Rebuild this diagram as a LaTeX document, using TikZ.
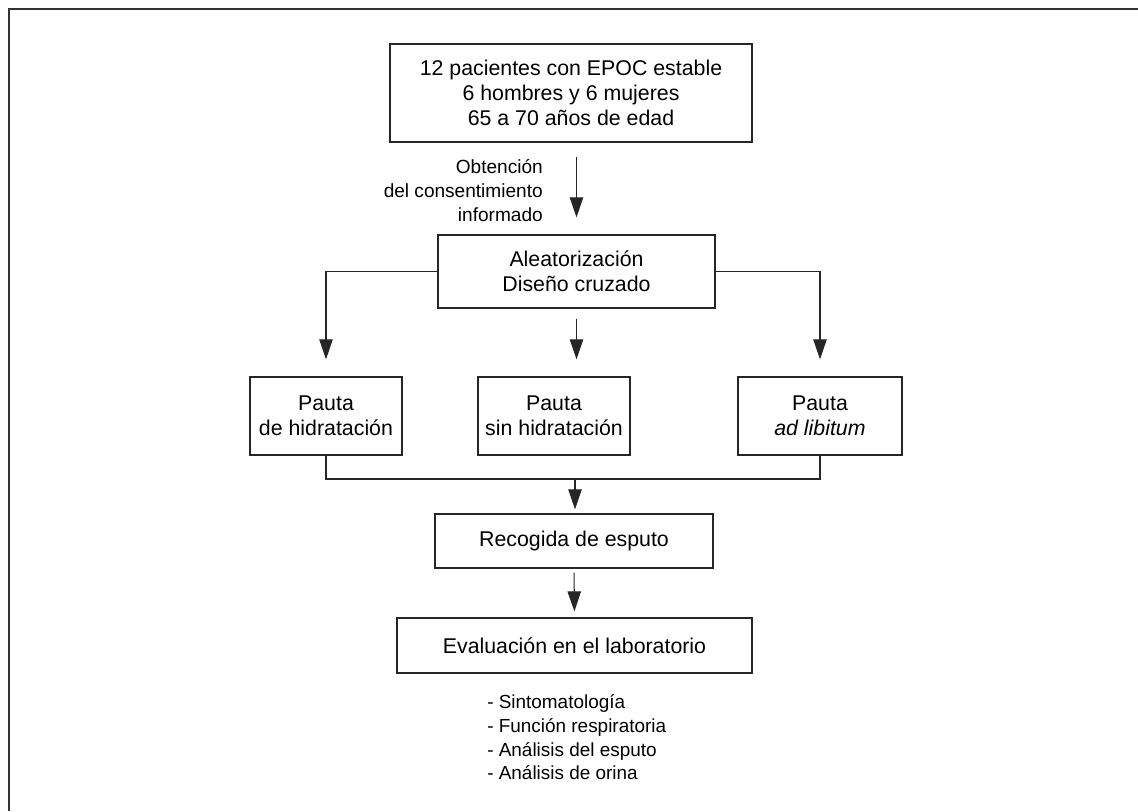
\documentclass[tikz,border=0pt]{standalone}
\usepackage{fontspec}
\setmainfont{Liberation Sans}
\usetikzlibrary{arrows.meta,calc}
\begin{document}
\begin{tikzpicture}[x=0.75pt,y=-0.75pt,
  box/.style={draw=black!85,line width=0.9pt,inner sep=0pt,align=center,
    font=\fontsize{16}{18.75}\selectfont},
  conn/.style={draw=black!85,line width=0.8pt},
  arr/.style={conn,-{Triangle[length=15pt,width=10pt]}},
  small/.style={font=\fontsize{14.3}{18}\selectfont,inner sep=0pt},
  list/.style={font=\fontsize{14.2}{17.8}\selectfont,inner sep=0pt}]
\useasboundingbox (0,0) rectangle (1138,811);
\draw[black!80,line width=1.5pt] (8.5,811) -- (8.5,8.5) -- (1138,8.5);
\node[box,minimum width=271.5pt,minimum height=73.5pt] (top) at (571,93)
  {12 pacientes con EPOC estable\\6 hombres y 6 mujeres\\65 a 70 años de edad};
\node[box,minimum width=207.75pt,minimum height=54.75pt] (alea) at (576.5,271.5)
  {Aleatorización\\Diseño cruzado};
\node[box,minimum width=114pt,minimum height=58.5pt] (p1) at (326,416)
  {Pauta\\de hidratación};
\node[box,minimum width=114pt,minimum height=58.5pt] (p2) at (554,416)
  {Pauta\\sin hidratación};
\node[box,minimum width=123pt,minimum height=58.5pt] (p3) at (820,416)
  {Pauta\\\textit{ad libitum}};
\node[box,minimum width=208.5pt,minimum height=40.5pt] (reco) at (574,541)
  {Recogida de esputo};
\node[box,minimum width=266.25pt,minimum height=41.25pt] (eval) at (574.5,645.5)
  {Evaluación en el laboratorio};
\node[small,align=right,anchor=east] (lab) at (543,191)
  {Obtención\\del consentimiento\\informado};
\node[list,align=left,anchor=west] (lst) at (487,737.5)
  {- Sintomatología\\- Función respiratoria\\- Análisis del esputo\\- Análisis de orina};
\coordinate (j) at (575,479);
\draw[arr,shorten <=11pt,shorten >=12.75pt] (top.south -| alea) -- (alea.north);
\draw[arr,shorten <=7.5pt,shorten >=12.75pt] (alea.south) -- (alea.south |- p2.north);
\draw[arr,shorten >=12.75pt] (alea.west) -| (p1.north);
\draw[arr,shorten >=12.75pt] (alea.east) -| (p3.north);
\draw[conn] (p1.south) |- (j) -| (p3.south);
\draw[arr,shorten >=3pt] (j) -- (j |- reco.north);
\draw[arr,shorten <=3pt,shorten >=4.5pt] (reco.south) -- (eval.north);
\end{tikzpicture}
\end{document}
